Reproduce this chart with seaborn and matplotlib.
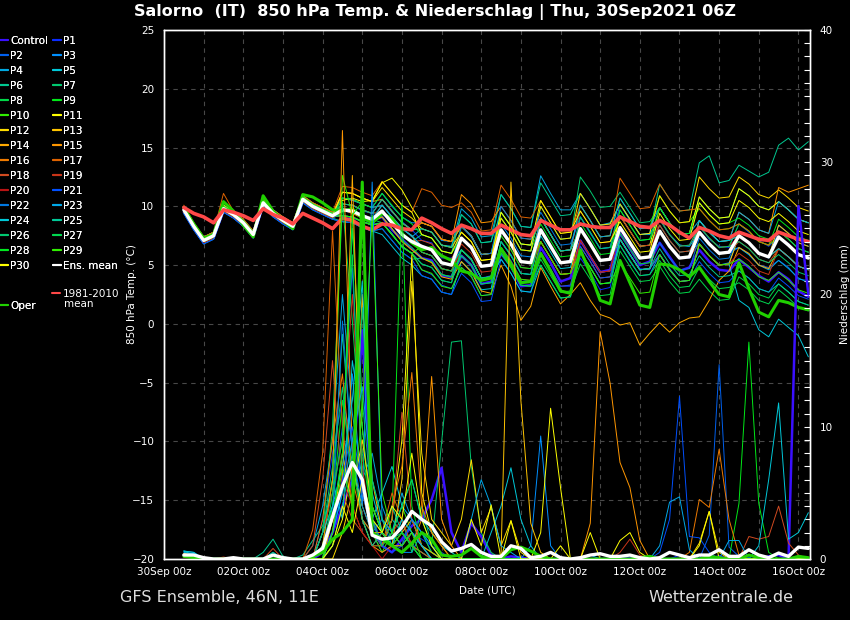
import matplotlib
matplotlib.use("Agg")
import matplotlib.pyplot as plt
import matplotlib.dates as mdates
from matplotlib.lines import Line2D
import pandas as pd
import seaborn as sns

# 6-hourly forecast steps, 30Sep 12z .. 16Oct 06z
times = pd.date_range("2021-09-30 12:00", periods=64, freq="6h")
tick_times = pd.date_range("2021-09-30", periods=9, freq="2D")
day_times = pd.date_range("2021-09-30", periods=17, freq="D")

# ---- 850 hPa temperature (deg C) ----
t_mean = [9.7, 8.3, 7.1, 7.5, 9.8, 9.3, 8.6, 7.6, 10.3, 9.4, 8.8, 8.3, 10.6, 10.0, 9.6, 9.2,
          9.7, 9.6, 9.2, 8.9, 9.6, 8.6, 7.6, 7.0, 6.6, 6.3, 5.2, 5.0, 7.3, 6.5, 4.9, 5.0,
          8.0, 6.8, 5.3, 5.2, 8.0, 6.6, 5.2, 5.3, 8.1, 6.8, 5.4, 5.5, 8.2, 6.9, 5.6, 5.7,
          7.9, 6.6, 5.6, 5.7, 7.8, 6.8, 6.0, 6.1, 7.5, 6.9, 6.0, 5.7, 7.4, 6.7, 5.9, 5.6]
t_clim = [9.9, 9.4, 9.1, 8.6, 9.7, 9.5, 9.2, 8.8, 9.8, 9.3, 9.0, 8.5, 9.4, 9.0, 8.6, 8.1,
          9.0, 8.8, 8.3, 8.0, 8.5, 8.4, 8.1, 8.0, 9.0, 8.6, 8.1, 7.7, 8.4, 8.1, 7.7, 7.7,
          8.4, 8.0, 7.6, 7.5, 8.8, 8.4, 8.0, 8.0, 8.5, 8.3, 8.2, 8.2, 9.1, 8.7, 8.3, 8.2,
          8.8, 8.4, 7.8, 7.3, 8.2, 7.9, 7.5, 7.3, 7.8, 7.5, 7.2, 7.1, 7.8, 7.5, 7.2, 7.0]
t_oper = [9.9, 8.5, 7.3, 7.6, 10.4, 9.6, 8.4, 7.4, 10.9, 9.6, 8.8, 8.1, 11.0, 10.8, 10.3, 9.7,
          9.6, 9.8, 9.0, 8.6, 9.4, 9.0, 7.7, 6.9, 6.3, 6.5, 5.8, 5.4, 4.5, 4.3, 3.7, 3.9,
          6.4, 5.0, 3.5, 3.6, 6.0, 4.5, 2.8, 2.6, 6.3, 4.3, 2.0, 1.7, 5.4, 3.5, 1.6, 1.4,
          5.1, 5.0, 4.6, 4.0, 4.8, 3.6, 2.5, 2.3, 5.2, 3.0, 1.0, 0.6, 2.0, 1.8, 1.4, 1.2]
t_ctrl = [9.5, 8.1, 6.9, 7.3, 9.6, 9.1, 8.4, 7.4, 10.1, 9.2, 8.6, 8.1, 10.4, 9.8, 9.4, 9.0,
          9.7, 9.5, 9.3, 8.8, 9.1, 8.0, 7.2, 6.4, 5.6, 5.4, 4.1, 4.0, 5.8, 5.0, 3.4, 3.6,
          6.0, 4.9, 3.2, 3.3, 6.5, 5.2, 3.6, 3.9, 7.1, 5.7, 4.4, 4.6, 7.7, 6.4, 5.0, 5.3,
          6.9, 5.7, 4.5, 4.8, 6.3, 5.3, 4.6, 4.5, 5.5, 4.8, 4.1, 3.6, 4.4, 3.8, 2.8, 2.3]
t_p1 = [10.0, 8.5, 7.4, 7.8, 10.1, 9.6, 8.8, 7.9, 10.6, 9.7, 9.1, 8.5, 10.9, 10.3, 9.8, 9.5,
        10.2, 10.1, 9.6, 9.4, 10.6, 9.5, 8.7, 8.0, 7.1, 6.9, 5.6, 5.6, 6.3, 5.4, 3.9, 4.1,
        6.5, 5.4, 3.8, 3.6, 6.0, 4.7, 3.2, 3.2, 5.6, 4.4, 2.9, 3.1, 7.2, 5.8, 4.7, 4.6,
        7.9, 6.5, 5.7, 5.6, 8.3, 7.2, 6.6, 6.5, 8.5, 7.8, 7.1, 6.6, 7.4, 6.8, 5.8, 5.7]
t_p2 = [9.6, 8.2, 7.0, 7.4, 9.9, 9.2, 8.5, 7.7, 10.2, 9.3, 8.7, 8.2, 10.5, 9.9, 9.5, 9.1,
        9.2, 9.0, 8.7, 8.5, 8.6, 7.7, 6.5, 6.0, 4.6, 4.2, 3.3, 3.0, 4.8, 4.1, 2.4, 2.5,
        7.0, 5.9, 4.3, 4.2, 8.0, 6.7, 5.2, 5.4, 9.1, 7.7, 6.4, 6.5, 10.2, 8.8, 7.6, 7.7,
        8.9, 7.6, 6.7, 6.6, 7.8, 6.7, 6.1, 6.0, 6.5, 5.9, 5.0, 4.8, 5.4, 4.8, 3.8, 3.7]
t_p3 = [9.9, 8.5, 7.3, 7.7, 10.0, 9.5, 8.8, 7.8, 10.5, 9.6, 9.0, 8.5, 10.8, 10.2, 9.8, 9.4,
        10.7, 10.5, 10.2, 9.9, 11.1, 10.0, 9.1, 8.6, 8.6, 8.3, 7.1, 7.0, 8.3, 7.4, 5.9, 6.0,
        8.5, 7.3, 5.8, 5.7, 8.0, 6.5, 5.2, 5.4, 7.1, 5.8, 4.4, 4.5, 6.7, 5.3, 4.1, 4.2,
        5.9, 4.7, 3.6, 3.7, 6.8, 5.8, 5.0, 5.2, 7.5, 6.9, 6.1, 5.6, 8.4, 7.7, 6.9, 6.6]
t_p4 = [9.7, 8.2, 7.1, 7.4, 9.9, 9.4, 8.6, 7.6, 10.4, 9.5, 8.7, 8.3, 10.7, 10.1, 9.6, 9.3,
        9.8, 9.6, 9.1, 8.9, 10.1, 9.1, 8.2, 7.4, 8.1, 7.8, 6.7, 6.6, 9.8, 9.0, 7.4, 7.5,
        11.0, 9.8, 8.3, 8.2, 12.6, 11.1, 9.7, 9.7, 11.1, 9.8, 8.4, 8.6, 10.2, 8.9, 7.6, 7.6,
        8.9, 7.6, 6.7, 6.6, 7.8, 6.9, 5.9, 6.2, 6.5, 5.9, 5.0, 4.6, 5.4, 4.7, 3.9, 3.5]
t_p5 = [9.4, 8.0, 6.8, 7.2, 9.5, 9.0, 8.3, 7.3, 10.0, 9.1, 8.5, 8.0, 10.3, 9.7, 9.3, 8.9,
        8.7, 8.6, 8.2, 7.9, 7.6, 6.6, 5.6, 5.0, 4.1, 3.8, 2.7, 2.5, 5.3, 4.5, 2.9, 3.0,
        7.0, 5.8, 4.3, 4.2, 7.5, 6.1, 4.7, 4.8, 8.1, 6.8, 5.4, 5.5, 9.2, 7.9, 6.6, 6.7,
        8.4, 7.1, 6.1, 6.2, 6.8, 5.8, 5.0, 5.1, 2.0, 1.4, -0.5, -1.1, 0.4, -0.3, -1.0, -2.8]
t_p6 = [9.9, 8.5, 7.3, 7.7, 10.0, 9.5, 8.8, 7.8, 10.5, 9.6, 9.0, 8.5, 10.8, 10.2, 9.8, 9.4,
        10.2, 10.1, 9.7, 9.4, 9.6, 8.6, 7.6, 7.0, 7.6, 7.3, 6.2, 6.0, 9.3, 8.5, 6.9, 7.0,
        11.0, 9.8, 8.3, 8.2, 12.0, 10.6, 9.2, 9.3, 11.1, 9.8, 8.4, 8.5, 10.2, 8.9, 7.6, 7.7,
        11.9, 10.6, 9.6, 9.7, 13.7, 14.3, 12.0, 12.2, 13.5, 13.0, 12.5, 12.9, 15.2, 15.8, 14.8, 15.5]
t_p7 = [9.5, 8.1, 6.9, 7.3, 9.6, 9.1, 8.4, 7.4, 10.1, 9.2, 8.6, 8.1, 10.4, 9.8, 9.4, 9.0,
        8.7, 8.6, 8.2, 7.9, 8.1, 7.1, 6.1, 5.5, 5.6, 5.3, 4.2, 4.0, 7.3, 6.5, 4.9, 5.0,
        9.0, 7.8, 6.3, 6.2, 10.0, 8.6, 7.2, 7.3, 12.5, 11.3, 9.9, 10.0, 11.2, 9.9, 8.6, 8.7,
        9.9, 8.6, 7.6, 7.7, 10.8, 9.8, 9.0, 9.1, 11.5, 10.9, 10.0, 9.7, 10.4, 9.7, 8.9, 8.6]
t_p8 = [9.6, 8.3, 7.0, 7.5, 9.9, 9.2, 8.6, 7.7, 10.2, 9.4, 8.9, 8.2, 10.6, 10.1, 9.5, 9.2,
        9.7, 9.5, 9.2, 8.8, 9.1, 8.1, 7.1, 6.5, 5.6, 5.3, 4.2, 4.0, 5.8, 5.0, 3.4, 3.5,
        6.0, 4.8, 3.3, 3.2, 5.5, 4.1, 2.7, 2.8, 5.1, 3.8, 2.4, 2.5, 6.2, 4.9, 3.6, 3.7,
        4.9, 3.6, 2.6, 2.7, 3.8, 2.8, 2.0, 2.1, 4.0, 3.4, 2.5, 2.2, 3.4, 2.7, 1.9, 1.6]
t_p9 = [9.8, 8.4, 7.2, 7.6, 9.9, 9.4, 8.7, 7.7, 10.4, 9.5, 8.9, 8.4, 10.7, 10.1, 9.7, 9.3,
        10.2, 10.1, 9.7, 9.4, 9.6, 8.6, 7.6, 7.0, 6.1, 5.8, 4.7, 4.5, 7.3, 6.5, 4.9, 5.0,
        9.0, 7.8, 6.3, 6.2, 8.5, 7.1, 5.7, 5.8, 8.1, 6.8, 5.4, 5.5, 7.7, 6.4, 5.1, 5.2,
        7.9, 6.6, 5.6, 5.7, 8.3, 7.3, 6.5, 6.6, 8.5, 7.9, 7.0, 6.7, 8.9, 8.2, 7.4, 7.1]
t_p10 = [9.6, 8.2, 7.0, 7.4, 9.7, 9.2, 8.5, 7.5, 10.2, 9.3, 8.7, 8.2, 10.5, 9.9, 9.5, 9.1,
         9.2, 9.1, 8.7, 8.4, 8.6, 7.6, 6.6, 6.0, 6.6, 6.3, 5.2, 5.0, 8.3, 7.5, 5.9, 6.0,
         9.5, 8.3, 6.8, 6.7, 9.0, 7.6, 6.2, 6.3, 10.1, 8.8, 7.4, 7.5, 10.7, 9.4, 8.1, 8.2,
         10.9, 9.6, 8.6, 8.7, 9.8, 8.8, 8.0, 8.1, 8.5, 7.9, 7.0, 6.7, 7.4, 6.7, 5.9, 5.6]
t_p11 = [10.0, 8.6, 7.4, 7.8, 10.1, 9.6, 8.9, 7.9, 10.6, 9.7, 9.1, 8.6, 10.9, 10.3, 9.9, 9.5,
         10.5, 10.7, 10.4, 10.5, 12.0, 12.4, 11.4, 9.9, 8.6, 8.3, 7.2, 7.0, 8.3, 7.5, 5.9, 6.0,
         8.0, 6.8, 5.3, 5.2, 7.0, 5.6, 4.2, 4.3, 8.1, 6.8, 5.4, 5.5, 9.2, 7.9, 6.6, 6.7,
         9.9, 8.6, 7.6, 7.7, 10.8, 9.8, 9.0, 9.1, 11.5, 10.9, 10.0, 9.7, 10.4, 9.7, 8.9, 8.6]
t_p12 = [9.5, 8.1, 6.9, 7.3, 9.6, 9.1, 8.4, 7.4, 10.1, 9.2, 8.6, 8.1, 10.4, 9.8, 9.4, 9.0,
         11.2, 11.1, 10.7, 10.4, 11.6, 10.6, 9.6, 9.0, 8.1, 7.8, 6.7, 6.5, 7.8, 7.0, 5.4, 5.5,
         9.0, 7.8, 6.3, 6.2, 10.0, 8.6, 7.2, 7.3, 11.1, 9.8, 8.4, 8.5, 10.2, 8.9, 7.6, 7.7,
         10.9, 9.6, 8.6, 8.7, 12.5, 11.5, 10.7, 10.8, 12.5, 11.9, 11.0, 10.7, 11.4, 10.7, 9.9, 9.6]
t_p13 = [9.8, 8.4, 7.2, 7.6, 9.9, 9.4, 8.7, 7.7, 10.4, 9.5, 8.9, 8.4, 10.7, 10.1, 9.7, 9.3,
         10.7, 10.6, 10.2, 9.9, 10.1, 9.1, 8.1, 7.5, 6.1, 5.8, 4.7, 4.5, 6.3, 5.5, 3.9, 4.0,
         8.0, 6.8, 5.3, 5.2, 9.0, 7.6, 6.2, 6.3, 8.1, 6.8, 5.4, 5.5, 7.2, 5.9, 4.6, 4.7,
         5.9, 4.6, 3.6, 3.7, 6.8, 5.8, 5.0, 5.1, 7.5, 6.9, 6.0, 5.7, 8.4, 7.7, 6.9, 6.6]
t_p14 = [9.7, 8.4, 7.1, 7.5, 9.8, 9.3, 8.5, 7.6, 10.3, 9.4, 8.8, 8.2, 10.6, 10.0, 9.6, 9.2,
         9.7, 9.4, 9.0, 8.7, 9.1, 8.1, 7.0, 6.3, 5.6, 5.2, 4.0, 3.8, 5.3, 4.4, 2.8, 2.6,
         5.0, 3.2, 0.3, 1.5, 4.8, 3.2, 1.7, 2.5, 3.5, 2.0, 0.8, 0.5, -0.1, 0.1, -1.8, -0.8,
         0.1, -0.7, 0.1, 0.5, 0.6, 2.0, 3.7, 4.5, 6.5, 6.0, 5.0, 4.7, 6.4, 5.7, 4.9, 4.6]
t_p15 = [9.9, 8.5, 7.3, 7.7, 10.0, 9.5, 8.8, 7.8, 10.5, 9.6, 9.0, 8.5, 10.8, 10.2, 9.8, 9.4,
         11.2, 11.1, 10.7, 10.4, 10.6, 9.6, 8.6, 8.0, 8.6, 8.3, 7.2, 7.0, 11.0, 10.2, 8.6, 8.7,
         10.0, 8.8, 7.3, 7.2, 9.0, 7.6, 6.2, 6.3, 8.1, 6.8, 5.4, 5.5, 7.2, 5.9, 4.6, 4.7,
         7.9, 6.6, 5.6, 5.7, 8.8, 7.8, 7.0, 7.1, 9.5, 8.9, 8.0, 7.7, 11.6, 11.2, 11.5, 11.8]
t_p16 = [9.6, 8.2, 7.0, 7.4, 9.7, 9.2, 8.5, 7.5, 10.2, 9.3, 8.7, 8.2, 10.5, 9.9, 9.5, 9.1,
         10.2, 10.1, 9.7, 9.4, 10.6, 9.6, 8.6, 8.0, 8.6, 8.3, 7.2, 7.0, 8.3, 7.5, 5.9, 6.0,
         8.0, 6.8, 5.3, 5.2, 7.0, 5.6, 4.2, 4.3, 6.6, 5.3, 3.9, 4.0, 7.2, 5.9, 4.6, 4.7,
         7.9, 6.6, 5.6, 5.7, 8.8, 7.8, 7.0, 7.1, 7.5, 6.9, 6.0, 5.7, 6.4, 5.7, 4.9, 4.6]
t_p17 = [10.1, 8.6, 7.4, 7.8, 11.1, 9.6, 8.9, 7.9, 10.6, 9.7, 9.1, 8.6, 10.9, 10.3, 9.9, 9.5,
         11.7, 11.6, 11.2, 10.9, 12.1, 11.1, 10.1, 9.5, 11.5, 11.2, 10.1, 9.9, 10.3, 9.5, 7.9, 8.0,
         11.8, 10.6, 9.1, 9.0, 10.5, 9.1, 7.7, 7.8, 10.1, 8.8, 7.4, 7.5, 12.4, 11.1, 9.8, 9.9,
         11.9, 10.6, 9.6, 9.7, 9.8, 8.8, 8.0, 8.1, 8.5, 7.9, 7.0, 6.7, 7.9, 7.2, 6.4, 6.1]
t_p18 = [9.8, 8.3, 7.1, 7.5, 9.8, 9.3, 8.6, 7.6, 10.3, 9.4, 8.8, 8.3, 10.6, 10.0, 9.6, 9.2,
         9.2, 9.1, 8.7, 8.4, 9.6, 8.6, 7.6, 7.0, 7.1, 6.8, 5.7, 5.5, 7.3, 6.5, 4.9, 5.0,
         7.5, 6.3, 4.8, 4.7, 7.0, 5.6, 4.2, 4.3, 7.1, 5.8, 4.4, 4.5, 8.2, 6.9, 5.6, 5.7,
         8.4, 7.1, 6.1, 6.2, 7.8, 6.8, 6.0, 6.1, 7.0, 6.4, 5.5, 5.2, 6.4, 5.7, 4.9, 4.6]
t_p19 = [9.8, 8.4, 7.2, 7.6, 9.9, 9.4, 8.7, 7.7, 10.4, 9.5, 8.9, 8.4, 10.7, 10.1, 9.7, 9.3,
         9.7, 9.6, 9.2, 8.9, 10.1, 9.1, 8.1, 7.5, 6.6, 6.3, 5.2, 5.0, 6.8, 6.0, 4.4, 4.5,
         8.0, 6.8, 5.3, 5.2, 9.0, 7.6, 6.2, 6.3, 9.6, 8.3, 6.9, 7.0, 9.2, 7.9, 6.6, 6.7,
         7.9, 6.6, 5.6, 5.7, 6.8, 5.8, 5.0, 5.1, 6.0, 5.4, 4.5, 4.2, 6.4, 5.7, 4.9, 4.6]
t_p20 = [9.5, 8.1, 6.9, 7.3, 9.6, 9.1, 8.4, 7.4, 10.1, 9.2, 8.6, 8.1, 10.4, 9.8, 9.4, 9.0,
         10.2, 10.1, 9.7, 9.4, 9.6, 8.6, 7.6, 7.0, 6.1, 5.8, 4.7, 4.5, 6.3, 5.5, 3.9, 4.0,
         6.5, 5.3, 3.8, 3.7, 6.0, 4.6, 3.2, 3.3, 7.1, 5.8, 4.4, 4.5, 8.2, 6.9, 5.6, 5.7,
         8.9, 7.6, 6.6, 6.7, 8.3, 7.3, 6.5, 6.6, 7.5, 6.9, 6.0, 5.7, 7.4, 6.7, 5.9, 5.6]
t_p21 = [9.4, 8.0, 6.8, 7.2, 9.5, 9.0, 8.3, 7.3, 10.0, 9.1, 8.5, 8.0, 10.3, 9.7, 9.3, 8.9,
         8.7, 8.6, 8.2, 7.9, 8.1, 7.1, 6.1, 5.5, 4.1, 3.8, 2.7, 2.5, 4.3, 3.5, 1.9, 2.0,
         5.5, 4.3, 2.8, 2.7, 6.0, 4.6, 3.2, 3.3, 6.6, 5.3, 3.9, 4.0, 7.2, 5.9, 4.6, 4.7,
         5.9, 4.6, 3.6, 3.7, 5.3, 4.3, 3.5, 3.6, 4.5, 3.9, 3.0, 2.7, 3.9, 3.2, 2.4, 2.1]
t_p22 = [9.8, 8.4, 7.2, 7.6, 9.9, 9.4, 8.7, 7.7, 10.4, 9.5, 8.9, 8.4, 10.7, 10.1, 9.7, 9.3,
         10.7, 10.6, 10.2, 9.9, 10.1, 9.1, 8.1, 7.5, 6.6, 6.3, 5.2, 5.0, 8.3, 7.5, 5.9, 6.0,
         10.0, 8.8, 7.3, 7.2, 9.5, 8.1, 6.7, 6.8, 9.1, 7.8, 6.4, 6.5, 8.2, 6.9, 5.6, 5.7,
         6.9, 5.6, 4.6, 4.7, 7.3, 6.3, 5.5, 5.6, 7.5, 6.9, 6.0, 5.7, 7.9, 7.2, 6.4, 6.1]
t_p23 = [9.7, 8.3, 7.1, 7.5, 9.8, 9.3, 8.6, 7.6, 10.3, 9.4, 8.8, 8.3, 10.6, 10.0, 9.6, 9.2,
         9.2, 9.1, 8.7, 8.4, 8.6, 7.6, 6.6, 6.0, 5.1, 4.8, 3.7, 3.5, 6.3, 5.5, 3.9, 4.0,
         8.0, 6.8, 5.3, 5.2, 9.0, 7.6, 6.2, 6.3, 10.1, 8.8, 7.4, 7.5, 10.7, 9.4, 8.1, 8.2,
         9.9, 8.6, 7.6, 7.7, 8.8, 7.8, 7.0, 7.1, 9.5, 8.9, 8.0, 7.7, 10.4, 9.7, 8.9, 8.6]
t_p24 = [9.9, 8.5, 7.3, 7.7, 10.0, 9.5, 8.8, 7.8, 10.5, 9.6, 9.0, 8.5, 10.8, 10.2, 9.8, 9.4,
         9.7, 9.6, 9.2, 8.9, 10.1, 9.1, 8.1, 7.5, 6.6, 6.3, 5.2, 5.0, 6.3, 5.5, 3.9, 4.0,
         5.5, 4.3, 2.8, 2.7, 5.0, 3.6, 2.2, 2.3, 6.1, 4.8, 3.4, 3.5, 7.2, 5.9, 4.6, 4.7,
         7.9, 6.6, 5.6, 5.7, 8.8, 7.8, 7.0, 7.1, 7.5, 6.9, 6.0, 5.7, 6.4, 5.7, 4.9, 4.6]
t_p25 = [9.6, 8.2, 7.0, 7.4, 9.7, 9.2, 8.5, 7.5, 10.2, 9.3, 8.7, 8.2, 10.5, 9.9, 9.5, 9.1,
         10.2, 10.1, 9.7, 9.4, 10.6, 9.6, 8.6, 8.0, 8.1, 7.8, 6.7, 6.5, 9.3, 8.5, 6.9, 7.0,
         9.5, 8.3, 6.8, 6.7, 9.0, 7.6, 6.2, 6.3, 8.1, 6.8, 5.4, 5.5, 7.2, 5.9, 4.6, 4.7,
         6.4, 5.1, 4.1, 4.2, 5.8, 4.8, 4.0, 4.1, 4.5, 3.9, 3.0, 2.7, 3.4, 2.7, 1.9, 1.6]
t_p26 = [9.8, 8.4, 7.2, 7.6, 9.9, 9.4, 8.7, 7.7, 10.4, 9.5, 8.9, 8.4, 10.7, 10.1, 9.7, 9.3,
         9.2, 9.1, 8.7, 8.4, 9.6, 8.6, 7.6, 7.0, 6.1, 5.8, 4.7, 4.5, 5.8, 5.0, 3.4, 3.5,
         7.0, 5.8, 4.3, 4.2, 8.0, 6.6, 5.2, 5.3, 9.1, 7.8, 6.4, 6.5, 9.7, 8.4, 7.1, 7.2,
         8.9, 7.6, 6.6, 6.7, 8.3, 7.3, 6.5, 6.6, 7.0, 6.4, 5.5, 5.2, 5.9, 5.2, 4.4, 4.1]
t_p27 = [9.7, 8.3, 7.1, 7.5, 9.8, 9.3, 8.6, 7.6, 10.3, 9.4, 8.8, 8.3, 10.6, 10.0, 9.6, 9.2,
         9.7, 9.6, 9.2, 8.9, 8.6, 7.6, 6.6, 6.0, 5.1, 4.8, 3.7, 3.5, 6.3, 5.5, 3.9, 4.0,
         6.0, 4.8, 3.3, 3.2, 5.0, 3.6, 2.2, 2.3, 6.1, 4.8, 3.4, 3.5, 6.7, 5.4, 4.1, 4.2,
         5.4, 4.1, 3.1, 3.2, 4.8, 3.8, 3.0, 3.1, 3.5, 2.9, 2.0, 1.7, 2.9, 2.2, 1.4, 1.1]
t_p28 = [9.6, 8.2, 7.0, 7.4, 9.7, 9.2, 8.5, 7.5, 10.2, 9.3, 8.7, 8.2, 10.5, 9.9, 9.5, 9.1,
         10.7, 10.6, 10.2, 9.9, 11.1, 10.1, 9.1, 8.5, 7.6, 7.3, 6.2, 6.0, 7.3, 6.5, 4.9, 5.0,
         7.5, 6.3, 4.8, 4.7, 8.0, 6.6, 5.2, 5.3, 8.6, 7.3, 5.9, 6.0, 9.7, 8.4, 7.1, 7.2,
         9.9, 8.6, 7.6, 7.7, 10.3, 9.3, 8.5, 8.6, 9.0, 8.4, 7.5, 7.2, 7.9, 7.2, 6.4, 6.1]
t_p29 = [9.9, 8.5, 7.3, 7.7, 10.0, 9.5, 8.8, 7.8, 10.5, 9.6, 9.0, 8.5, 10.8, 10.2, 9.8, 9.4,
         9.2, 9.1, 8.7, 8.4, 8.6, 7.6, 6.6, 6.0, 4.6, 4.3, 3.2, 3.0, 4.8, 4.0, 2.4, 2.5,
         6.5, 5.3, 3.8, 3.7, 7.0, 5.6, 4.2, 4.3, 6.1, 4.8, 3.4, 3.5, 5.2, 3.9, 2.6, 2.7,
         5.9, 4.6, 3.6, 3.7, 6.8, 5.8, 5.0, 5.1, 5.5, 4.9, 4.0, 3.7, 4.4, 3.7, 2.9, 2.6]
t_p30 = [9.7, 8.3, 7.1, 7.5, 9.8, 9.3, 8.6, 7.6, 10.3, 9.4, 8.8, 8.3, 10.6, 10.0, 9.6, 9.2,
         11.2, 11.1, 10.7, 10.4, 12.1, 11.1, 10.1, 9.5, 7.6, 7.3, 6.2, 6.0, 7.8, 7.0, 5.4, 5.5,
         9.5, 8.3, 6.8, 6.7, 10.5, 9.1, 7.7, 7.8, 9.6, 8.3, 6.9, 7.0, 8.7, 7.4, 6.1, 6.2,
         9.4, 8.1, 7.1, 7.2, 10.3, 9.3, 8.5, 8.6, 10.5, 9.9, 9.0, 8.7, 9.4, 8.7, 7.9, 7.6]

# ---- 6h precipitation (mm) ----
pr_mean = [0.3, 0.3, 0.1, 0, 0, 0.1, 0, 0, 0, 0.3, 0.1, 0, 0, 0.3, 0.8, 3.2,
           5.5, 7.3, 6.0, 1.8, 1.5, 1.6, 2.4, 3.6, 3.0, 2.5, 1.3, 0.6, 0.8, 1.1, 0.5, 0.2,
           0.2, 1.0, 0.8, 0.1, 0.2, 0.5, 0.1, 0, 0.1, 0.3, 0.4, 0.2, 0.2, 0.3, 0.1, 0,
           0.1, 0.5, 0.3, 0.1, 0.3, 0.3, 0.7, 0.2, 0.2, 0.7, 0.3, 0.1, 0.45, 0.2, 0.9, 0.8]
pr_oper = [0.2, 0.1, 0, 0, 0, 0, 0, 0, 0, 0, 0, 0, 0, 0.2, 0.5, 1.5,
           2.0, 3.0, 28.5, 2.0, 1.5, 1.0, 0.5, 1.2, 2.0, 1.5, 0.3, 0.2, 0.3, 0.8, 0.2, 0,
           0, 0.7, 0.9, 0.6, 0.2, 0, 0, 0, 0, 0, 0, 0, 0, 0, 0.1, 0.2,
           0, 0, 0, 0, 0, 0.2, 0.1, 0, 0, 0.3, 0.1, 0, 0, 0, 0.2, 0.1]
pr_ctrl = [0.3, 0.2, 0, 0, 0, 0, 0, 0, 0, 0, 0, 0, 0, 0, 0.5, 2.0,
           4.0, 6.0, 17.3, 3.0, 1.0, 0.5, 1.5, 2.5, 3.0, 4.5, 6.9, 2.0, 0.5, 2.7, 1.7, 0.3,
           0, 0.2, 0.1, 0, 0, 0, 0, 0, 0, 0, 0, 0, 0, 0.1, 0, 0,
           0, 0, 0, 0, 0, 0, 0.2, 0, 0, 0, 0, 0.2, 0.3, 0, 26.7, 20.0]
pr_p1 = [0.2, 0.1, 0, 0, 0, 0, 0, 0, 0, 0, 0, 0, 0, 0, 3, 8,
         12, 9, 5, 3, 1, 2, 1, 2, 1.5, 1, 0.5, 0, 0, 0, 0, 0,
         0, 0, 0, 0, 0, 0, 0, 0, 0, 0, 0, 0, 0, 0, 0, 0,
         0, 0, 0.3, 0, 0, 0, 0, 0, 0, 0, 0, 0, 0, 0, 0, 0]
pr_p2 = [0.3, 0.2, 0, 0, 0, 0, 0, 0, 0, 0, 0, 0, 0, 0, 1, 4,
         10, 22, 6, 2, 0.5, 1, 3, 1, 0.5, 0, 0, 0, 0, 0, 0, 0,
         0, 0, 0, 0, 0, 0, 0, 0, 0, 0, 0, 0, 0, 0, 0, 0,
         0, 0, 0, 0, 0, 1.8, 14.7, 0.9, 0.2, 0, 0, 0, 0, 0, 0, 0]
pr_p3 = [0.2, 0.2, 0, 0, 0, 0, 0, 0, 0, 0, 0, 0, 0, 0, 0, 2,
         5, 14, 4, 28.5, 3, 1, 0.5, 0.5, 2, 0.5, 0, 0, 0, 0, 0, 0,
         0, 0, 0, 1, 9.3, 1, 0, 0, 0, 0, 0, 0, 0, 0, 0, 0,
         0, 0, 0, 0, 0, 0, 0, 0, 0, 0, 0, 0, 0, 0, 0, 0]
pr_p4 = [0.6, 0.5, 0, 0, 0, 0, 0, 0, 0, 0, 0, 0, 0, 1, 4, 9,
         20, 11, 6, 8, 4, 2, 5, 3, 1, 0.5, 0, 0, 0, 0, 0, 0,
         0, 0, 0, 0, 0, 0, 0, 0, 0, 0.3, 0, 0, 0, 0, 0, 0,
         0, 0, 0, 0, 0, 0, 0, 0, 0, 0, 0, 0, 0, 0, 0, 0]
pr_p5 = [0.6, 0.5, 0, 0, 0, 0, 0, 0, 0, 0.5, 0, 0, 0, 0, 2, 6,
         3, 15, 10, 3, 5, 7, 4, 6, 3, 2, 1, 0.5, 0, 0, 0, 2,
         4, 6.9, 3, 1, 0, 0, 0, 0, 0, 0, 0, 0, 0, 0, 0, 0,
         0, 0, 0, 0, 0, 0, 0, 0, 0, 0, 0, 0, 0, 0, 0, 0]
pr_p6 = [0.3, 0.2, 0, 0, 0, 0, 0, 0, 0.5, 1.5, 0.2, 0, 0.3, 1.4, 2.5, 5,
         17, 8, 3, 2, 1, 3, 2, 1, 0.5, 0, 0, 0, 0, 0, 0, 0,
         0, 0, 0, 0, 0, 0, 0, 0, 0, 0, 0, 0, 0, 0, 0, 0,
         0, 0, 0, 0, 0, 0, 0, 0, 0, 0, 0, 0, 0, 0, 0, 0]
pr_p7 = [0.2, 0.1, 0, 0, 0, 0, 0, 0, 0, 0, 0, 0, 0, 0, 0, 3,
         8, 25, 12, 4, 2, 1, 3, 0.5, 4, 1, 8.8, 16.4, 16.5, 7, 2, 0.5,
         0, 0, 0, 0, 0, 0, 0, 0, 0, 0, 0, 0, 0, 0, 0, 0,
         0, 0, 0, 0, 0, 0, 0, 0, 0, 0, 0, 0, 0, 0, 0, 0]
pr_p8 = [0.3, 0.2, 0, 0, 0, 0, 0, 0, 0, 0, 0, 0, 0, 0, 2, 10,
         27, 18, 8, 3, 2, 1, 1, 3, 2, 0.5, 0, 0, 0, 0, 0, 0,
         0, 0, 0, 0, 0, 0, 0, 0, 0, 0, 0, 0, 0, 0, 0, 0,
         0, 0, 0, 0, 0, 0, 0, 0, 0, 0, 0, 0, 0, 0, 0, 0]
pr_p9 = [0.2, 0.1, 0, 0, 0, 0, 0, 0, 0, 0, 0, 0, 0, 0, 0, 4,
         12, 7, 3, 1, 1, 3, 26.9, 4, 1, 0.5, 0, 0, 0, 0, 0, 0,
         0, 0, 0, 0, 0, 0, 0, 0, 0, 0, 0, 0, 0, 0, 0, 0,
         0, 0, 0, 0, 0, 0, 0, 0, 4.2, 16.4, 4.2, 0.5, 0, 0, 0, 0]
pr_p10 = [0.3, 0.3, 0, 0, 0, 0, 0, 0, 0, 0, 0, 0, 0, 0, 1, 6,
          29, 26, 10, 2, 0.5, 2, 4, 2, 1, 0, 0, 0, 0, 0, 0, 0,
          0, 0, 0, 0, 0, 0, 0, 0, 0, 0, 0, 0, 0, 0, 0, 0,
          0, 0, 0, 0, 0, 0, 0, 0, 0, 0, 0, 0, 0, 0, 0, 0]
pr_p11 = [0.3, 0.2, 0, 0, 0, 0, 0, 0, 0, 0, 0, 0, 0, 0, 0, 1,
          3, 7, 4, 2, 1, 3, 9, 23, 5, 2, 1, 0, 0, 0, 0, 0,
          0, 0, 0, 0, 2, 11.4, 5.4, 0, 0, 0, 0, 0, 0, 0, 0, 0,
          0, 0, 0, 0, 0, 0, 0, 0, 0, 0, 0, 0, 0, 0, 0, 0]
pr_p12 = [0.2, 0.2, 0, 0, 0, 0, 0, 0, 0, 0, 0, 0, 0, 0, 0, 0,
          2, 5, 9, 4, 2, 1, 6, 21, 8, 3, 2, 1, 3, 7.5, 2, 3.9,
          1, 2.9, 0.5, 0, 0, 0, 0, 0, 0, 0, 0, 0, 0, 0, 0, 0,
          0, 0, 0, 0, 1.2, 3.6, 0.5, 0, 0, 0, 0, 0, 0, 0, 0, 0]
pr_p13 = [0.2, 0.1, 0, 0, 0, 0, 0, 0, 0, 0, 0, 0, 0, 0, 0, 2,
          8, 4, 20, 6, 2, 1, 2, 3, 1, 0, 0, 0, 0, 0, 0, 0,
          0.3, 28.5, 12, 2.7, 0.5, 0, 0, 0, 0, 0, 0, 0, 0, 0, 0, 0,
          0, 0, 0, 0, 0, 0, 0, 0, 0, 0, 0, 0, 0, 0, 0, 0]
pr_p14 = [0.3, 0.2, 0, 0, 0, 0, 0, 0, 0, 0, 0, 0, 0, 0, 0, 3,
          6, 29, 5, 2, 2, 1, 1, 2, 1, 0.5, 0, 0, 0, 0, 0, 0,
          0, 0, 0, 0, 0, 0, 0, 0, 0, 0, 0, 0, 0, 0, 0, 0,
          0, 0, 0, 0, 0, 0, 0, 0, 0, 0, 0, 0, 0, 0, 0, 0]
pr_p15 = [0.2, 0.1, 0, 0, 0, 0, 0, 0, 0, 0, 0, 0, 0, 0, 1, 6,
          32.4, 8, 3, 1, 0.5, 1, 2, 1, 3, 13.8, 3, 1, 0, 0, 0, 0,
          0, 0, 0, 0, 0, 0, 0, 0, 0, 2.7, 17.2, 13.3, 7.3, 5.4, 1.4, 0,
          0, 0, 0, 0, 0, 0, 0, 0, 0, 0, 0, 0, 0, 0, 0, 0]
pr_p16 = [0.3, 0.2, 0, 0, 0, 0, 0, 0, 0, 0, 0, 0, 0, 0, 3, 9,
          14, 6, 3, 2, 1, 4, 7, 14.1, 4, 2, 1, 0, 0, 0, 0, 0,
          0, 0, 0, 0, 0, 0, 0, 0, 0, 0, 0, 0, 0, 0, 0, 0,
          0, 0, 0, 0.5, 4.5, 3.9, 8.3, 3, 0.3, 0, 0, 0, 0, 0, 0, 0]
pr_p17 = [0.4, 0.2, 0, 0, 0, 0, 0, 0, 0, 0, 0, 0, 0, 2.2, 8, 24.8,
          10, 4, 2, 1, 2, 5, 3, 1, 0.5, 0, 0, 0, 0, 0, 0, 0,
          0, 0, 0, 0, 0, 0, 0, 0, 0, 0, 0, 0, 0, 0, 0, 0,
          0, 0, 0, 0, 0, 0, 0, 0, 0, 0, 0, 0, 0, 0, 0, 0]
pr_p18 = [0.2, 0.1, 0, 0, 0, 0, 0, 0, 0, 0.8, 0, 0, 0, 1, 6, 15,
          5, 3, 2, 1, 1, 3, 11.1, 3, 1, 0, 0, 0, 0, 0, 0, 0,
          0, 0, 0, 0, 0, 0, 0, 0, 0, 0, 0, 0, 0, 0, 0, 0,
          0, 0, 0, 0, 0, 0, 0, 0, 0, 1.7, 1.5, 1.7, 4.0, 1.2, 0.3, 0]
pr_p19 = [0.2, 0.1, 0, 0, 0.15, 0, 0, 0, 0, 0, 0, 0, 0, 0, 2, 5,
          9, 20, 7, 2, 1, 2, 3, 1, 0, 0, 0, 0, 0, 0, 0, 0,
          0, 0, 0, 0, 0, 0, 0, 0, 0, 0, 0, 0, 0.5, 1.5, 0.3, 0,
          0, 0, 0, 0, 0, 0, 0, 0, 0, 0, 0, 0, 0, 0, 0, 0]
pr_p20 = [0.1, 0.1, 0, 0, 0, 0, 0, 0, 0, 0, 0, 0, 0, 0, 1, 3,
          6, 4, 2, 1, 0, 1, 2, 1, 0, 0, 0, 0, 0, 0, 0, 0,
          0, 0, 0, 0, 0, 0, 0, 0, 0, 0, 0, 0, 0, 0, 0, 0,
          0, 0, 0, 0, 0, 0, 0, 0, 0, 0, 0, 0, 0, 0, 0, 0]
pr_p21 = [0.3, 0.2, 0, 0, 0, 0, 0, 0, 0, 0, 0, 0, 0, 0, 0, 2,
          6, 10, 5, 2, 1, 0.5, 1, 3, 2, 1, 0, 0, 0, 0, 0, 0,
          0, 0, 0, 0, 0, 0, 0, 0, 0, 0, 0, 0, 0, 0, 0, 0,
          0.5, 3, 12.3, 1.7, 1.6, 0.5, 0, 0, 0, 0, 0, 0, 0, 0, 0, 0]
pr_p22 = [0.4, 0.3, 0, 0, 0, 0, 0, 0, 0, 0, 0, 0, 0, 0, 1, 3,
          18, 8, 4, 2, 3, 2, 1, 2, 1, 0, 0, 0, 0, 0, 0, 0,
          0, 0, 0, 0, 0, 0, 0, 0, 0, 0, 0, 0, 0, 0, 0, 0,
          0, 0, 0, 0, 0, 0, 0, 0, 0, 0, 0, 0, 0, 0, 0, 0]
pr_p23 = [0.5, 0.4, 0, 0, 0, 0, 0, 0, 0, 0, 0, 0, 0, 0, 0, 2,
          5, 9, 13, 6, 3, 2, 4, 3, 2, 1, 0, 0, 0, 3, 6, 4,
          1, 0.5, 0, 0, 0, 0, 0, 0, 0, 0, 0, 0, 0, 0, 0, 0,
          1, 4.3, 4.7, 0.7, 0, 0, 0, 1.4, 1.4, 0, 0, 0, 0, 0, 0, 0]
pr_p24 = [0.6, 0.3, 0, 0, 0, 0, 0, 0, 0, 0, 0, 0, 0, 0, 2, 4,
          7, 12, 21, 5, 2, 1, 3, 2, 1, 0, 0, 0, 0, 0, 0, 0,
          0, 0, 0, 0, 0, 0, 0, 0, 0, 0, 0, 0, 0, 0, 0, 0,
          0, 0, 0, 0, 0, 0, 0, 0, 0, 0, 1.0, 6, 11.8, 1.5, 2.0, 3.5]
pr_p25 = [0.3, 0.2, 0, 0, 0, 0, 0, 0, 0, 0.5, 0, 0, 0, 0, 0, 1,
          4, 8, 3, 1, 2, 4, 2, 1, 0, 0, 0, 0, 0, 0, 0, 0,
          0, 0, 0, 0, 0, 0, 0, 0, 0, 0, 0, 0, 0, 0, 0, 0,
          0, 0, 0, 0, 0, 0, 0, 0, 0, 0, 0, 0, 0, 0, 0, 0]
pr_p26 = [0.2, 0.2, 0, 0, 0, 0, 0, 0, 0, 0, 0, 0, 0, 0, 2, 7,
          13, 5, 19, 6, 3, 1.5, 2, 1, 0, 0, 0, 0, 0, 0, 0, 0,
          0, 0, 0, 0, 0, 0, 0, 0, 0, 0, 0, 0, 0, 0, 0, 0,
          0, 0, 0, 0, 0, 0, 0, 0, 0, 0, 0, 0, 0, 0, 0, 0]
pr_p27 = [0.3, 0.1, 0, 0, 0, 0, 0, 0, 0, 0, 0, 0, 0, 0, 0, 5,
          9, 23, 6, 3, 1, 2, 4, 6, 3, 1, 0, 0, 0, 0, 0, 0,
          0, 0, 0, 0, 0, 0, 0, 0, 0, 0, 0, 0, 0, 0, 0, 0,
          0, 0, 0, 0, 0, 0, 0, 0, 0, 0, 0, 0, 0, 0, 0, 0]
pr_p28 = [0.2, 0.2, 0, 0, 0, 0, 0, 0, 0, 0, 0, 0, 0, 0, 1, 3,
          8, 26, 27, 4, 2, 1, 2, 1, 0, 0, 0, 0, 0, 0, 0, 0,
          0, 0, 0, 0, 0, 0, 0, 0, 0, 0, 0, 0, 0, 0, 0, 0,
          0, 0, 0, 0, 0, 0, 0, 0, 0, 0, 0, 0, 0, 0, 0, 0]
pr_p29 = [0.3, 0.2, 0, 0, 0, 0, 0, 0, 0, 0, 0, 0, 0, 0, 0, 2,
          7, 4, 11, 26, 5, 2, 1, 2, 0, 0, 0, 0, 0, 0, 0, 0,
          0, 0, 0, 0, 0, 0, 0, 0, 0, 0, 0, 0, 0, 0, 0, 0,
          0, 0, 0, 0, 0, 0, 0, 0, 0, 0, 0, 0, 0, 0, 0, 0]
pr_p30 = [0.4, 0.3, 0, 0, 0, 0, 0, 0, 0, 0, 0, 0, 0, 0, 0, 1,
          4, 2, 6, 3, 2, 4, 3, 8, 3, 1, 0, 0, 0, 3, 1, 4.1,
          0, 2.9, 0, 0, 0, 0, 1, 0, 0, 2, 0, 0, 1.4, 2, 0.5, 0,
          0, 0, 0, 0, 1, 3.6, 0, 0, 0, 0, 0, 0, 0, 0, 0, 0]

member_names = ["Control"] + [f"P{k}" for k in range(1, 31)]
member_colors = ["#3a10ff", "#0a2cff", "#0060ee", "#0090ff", "#00a8e0", "#00c8d8",
                 "#00c890", "#00c870", "#00d848", "#00e818", "#30ee00", "#ffff00",
                 "#ffdc00", "#ffc400", "#ffaa00", "#ff9600", "#ee7a00", "#dd6200",
                 "#d04a20", "#c83418", "#b81414", "#0050ff", "#0078e0", "#00a8e8",
                 "#00c8d8", "#00c898", "#00c870", "#00d850", "#00e820", "#30ee00",
                 "#ffff00"]
member_temps = [t_ctrl, t_p1, t_p2, t_p3, t_p4, t_p5, t_p6, t_p7, t_p8, t_p9, t_p10,
                t_p11, t_p12, t_p13, t_p14, t_p15, t_p16, t_p17, t_p18, t_p19, t_p20,
                t_p21, t_p22, t_p23, t_p24, t_p25, t_p26, t_p27, t_p28, t_p29, t_p30]
member_precip = [pr_ctrl, pr_p1, pr_p2, pr_p3, pr_p4, pr_p5, pr_p6, pr_p7, pr_p8, pr_p9, pr_p10,
                 pr_p11, pr_p12, pr_p13, pr_p14, pr_p15, pr_p16, pr_p17, pr_p18, pr_p19, pr_p20,
                 pr_p21, pr_p22, pr_p23, pr_p24, pr_p25, pr_p26, pr_p27, pr_p28, pr_p29, pr_p30]
oper_color = "#20d000"
mean_color = "white"
clim_color = "#ff4848"

sns.set_theme(style="dark", rc={
    "figure.facecolor": "black", "axes.facecolor": "black",
    "axes.edgecolor": "white", "text.color": "white",
    "axes.labelcolor": "white", "xtick.color": "white", "ytick.color": "white",
})
plt.rcParams["font.family"] = ["DejaVu Sans"]

fig = plt.figure(figsize=(8.5, 6.2), dpi=100)
ax = fig.add_axes([164 / 850, 1 - 559 / 620, 646 / 850, 529 / 620])
ax2 = ax.twinx()

# temperature lines
for i, (vals, col) in enumerate(zip(member_temps, member_colors)):
    lw = 1.8 if i == 0 else 0.7
    sns.lineplot(x=times, y=vals, ax=ax, color=col, linewidth=lw, legend=False)
sns.lineplot(x=times, y=t_oper, ax=ax, color=oper_color, linewidth=2.2, legend=False)
sns.lineplot(x=times, y=t_mean, ax=ax, color=mean_color, linewidth=2.4, legend=False)
sns.lineplot(x=times, y=t_clim, ax=ax, color=clim_color, linewidth=2.6, legend=False)

# precipitation lines on right axis
for i, (vals, col) in enumerate(zip(member_precip, member_colors)):
    lw = 1.8 if i == 0 else 0.7
    sns.lineplot(x=times, y=vals, ax=ax2, color=col, linewidth=lw, legend=False)
sns.lineplot(x=times, y=pr_oper, ax=ax2, color=oper_color, linewidth=2.2, legend=False)
sns.lineplot(x=times, y=pr_mean, ax=ax2, color=mean_color, linewidth=2.4, legend=False)

ax.set_xlim(pd.Timestamp("2021-09-30 00:00"), pd.Timestamp("2021-10-16 07:00"))
ax.set_ylim(-20, 25)
ax2.set_ylim(0, 40)
ax.set_yticks(range(-20, 26, 5))
ax2.set_yticks(range(0, 41, 10))
ax2.set_yticks(range(0, 41, 1), minor=True)
ax.set_xticks(tick_times)
ax.set_xticks(day_times, minor=True)
ax.xaxis.set_major_formatter(mdates.DateFormatter("%d%b %Hz"))

grid_kw = dict(color="#484848", linestyle=(0, (4, 4)), linewidth=0.8)
ax.grid(True, which="both", axis="x", **grid_kw)
ax.grid(True, which="major", axis="y", **grid_kw)
ax2.grid(False)

ax.tick_params(axis="both", which="both", length=0, labelsize=7.5, colors="white")
ax.tick_params(axis="y", pad=7)
ax.tick_params(axis="x", pad=6)
ax2.tick_params(axis="y", which="both", direction="in", length=4, width=0.8,
                color="white", labelcolor="white", labelsize=7.5, pad=7)
for a in (ax, ax2):
    for s in a.spines.values():
        s.set_color("white")
        s.set_linewidth(1.0)

ax.set_ylabel("850 hPa Temp. (°C)", fontsize=7.5)
ax.yaxis.set_label_coords((137 - 164) / 646, 0.5)
ax2.set_ylabel("Niederschlag (mm)", fontsize=7.5, labelpad=5)
ax.set_xlabel("Date (UTC)", fontsize=7.5, labelpad=6)

fig.text(0.512, 0.981, "Salorno  (IT)  850 hPa Temp. & Niederschlag | Thu, 30Sep2021 06Z",
         ha="center", va="center", fontsize=11.5, fontweight="bold", color="white")
fig.text(120 / 850, 1 - 598 / 620, "GFS Ensemble, 46N, 11E", ha="left", va="center",
         fontsize=11.5, color="#dddddd")
fig.text(721 / 850, 1 - 598 / 620, "Wetterzentrale.de", ha="center", va="center",
         fontsize=11.5, color="#dddddd")

# legend: two columns (column-major), plus Oper and climatology entries below
def handle(col, lw=1.5):
    return Line2D([0], [0], color=col, linewidth=lw)

leg_kw = dict(loc="upper left", frameon=False, fontsize=7.5, handlelength=0.8,
              handletextpad=0.2, borderpad=0, borderaxespad=0, labelcolor="white")
col1_h = [handle(member_colors[k]) for k in range(0, 31, 2)]
col1_l = [member_names[k] for k in range(0, 31, 2)]
col2_h = [handle(member_colors[k]) for k in range(1, 31, 2)] + [handle(mean_color)]
col2_l = [member_names[k] for k in range(1, 31, 2)] + ["Ens. mean"]
leg_main = fig.legend(col1_h + col2_h, col1_l + col2_l, ncol=2, columnspacing=0.4,
                      labelspacing=0.48, bbox_to_anchor=(0.0, 1 - 36 / 620), **leg_kw)
fig.add_artist(leg_main)
leg_oper = fig.legend([handle(oper_color)], ["Oper"],
                      bbox_to_anchor=(0.0, 1 - 301 / 620), **leg_kw)
fig.add_artist(leg_oper)
fig.legend([handle(clim_color)], ["1981-2010"],
           bbox_to_anchor=(52 / 850, 1 - 289 / 620), **leg_kw)
fig.text(64 / 850, 1 - 304 / 620, "mean", ha="left", va="center", fontsize=7.5,
         color="white")

fig.savefig("out.png", dpi=100, facecolor="black")
